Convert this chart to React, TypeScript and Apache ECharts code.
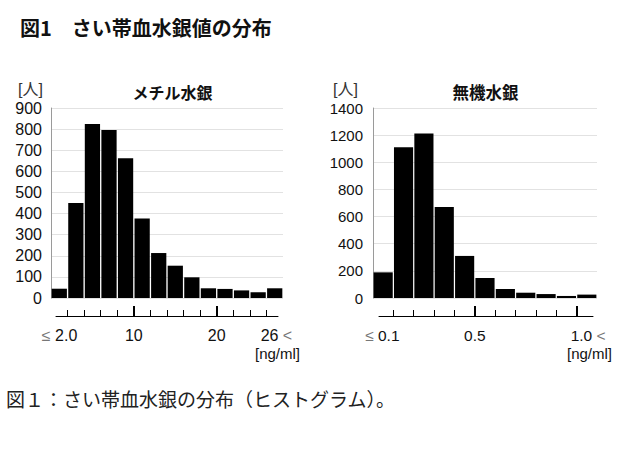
import React, { useEffect, useRef } from 'react';
import * as echarts from 'echarts';

// ---- data ----
const methylCategories = ['≤2.0', '2-4', '4-6', '6-8', '8-10', '10-12', '12-14', '14-16', '16-18', '18-20', '20-22', '22-24', '24-26', '26<'];
const methylCounts = [44, 450, 824, 796, 662, 377, 213, 153, 98, 46, 43, 36, 27, 46];
const methylYMax = 900;
const methylYStep = 100;
const methylTickPositions = [1, 5, 10, 13];
const methylTickLabels = ['≤ 2.0', '10', '20', '26 <'];
const methylMajorTicks = [5, 10];

const inorgCategories = ['≤0.1', '0.1-0.2', '0.2-0.3', '0.3-0.4', '0.4-0.5', '0.5-0.6', '0.6-0.7', '0.7-0.8', '0.8-0.9', '0.9-1.0', '1.0<'];
const inorgCounts = [189, 1110, 1213, 671, 310, 147, 66, 39, 29, 15, 25];
const inorgYMax = 1400;
const inorgYStep = 200;
const inorgTickPositions = [1, 5, 10];
const inorgTickLabels = ['≤ 0.1', '0.5', '1.0 <'];
const inorgMajorTicks = [5, 10];

const mainTitle = '図1　さい帯血水銀値の分布';
const caption = '図１：さい帯血水銀の分布（ヒストグラム）。';
const methylTitle = 'メチル水銀';
const inorgTitle = '無機水銀';
const yUnit = '[人]';
const xUnit = '[ng/ml]';

const LATIN = "'Liberation Sans', Arial, 'Noto Sans CJK JP', sans-serif";
const JP = "'Noto Sans CJK JP', 'Liberation Sans', sans-serif";

interface Panel {
  categories: string[];
  counts: number[];
  yMax: number;
  yStep: number;
  tickPositions: number[];
  tickLabels: string[];
  majorTicks: number[];
  grid: { left: number; top: number; width: number; height: number };
  tickGrid: { left: number; width: number; top: number; height: number };
  padLeftLabel: number;
  padRightLabel: number;
  gap: string;
  yLabelMargin: number;
  yFont: number;
  xFont: number;
}

const panels: Panel[] = [
  {
    categories: methylCategories,
    counts: methylCounts,
    yMax: methylYMax,
    yStep: methylYStep,
    tickPositions: methylTickPositions,
    tickLabels: methylTickLabels,
    majorTicks: methylMajorTicks,
    grid: { left: 51, top: 108, width: 232, height: 190 },
    tickGrid: { left: 56, width: 222, top: 290, height: 26 },
    padLeftLabel: 20,
    padRightLabel: 16,
    gap: '8%',
    yLabelMargin: 9,
    yFont: 16,
    xFont: 16,
  },
  {
    categories: inorgCategories,
    counts: inorgCounts,
    yMax: inorgYMax,
    yStep: inorgYStep,
    tickPositions: inorgTickPositions,
    tickLabels: inorgTickLabels,
    majorTicks: inorgMajorTicks,
    grid: { left: 373, top: 108, width: 224, height: 190 },
    tickGrid: { left: 379, width: 214, top: 290, height: 26 },
    padLeftLabel: 23,
    padRightLabel: 22,
    gap: '6%',
    yLabelMargin: 10,
    yFont: 15,
    xFont: 15.5,
  },
];

function richLabel(t: string): string {
  if (t.startsWith('≤ ')) return `{g|≤ }{n|${t.slice(2)}}{pr|\u00a0}`;
  if (t.endsWith(' <')) return `{pl|\u00a0}{n|${t.slice(0, -2)}}{g|\u00a0<}`;
  return `{n|${t}}`;
}

function buildOption() {
  const grid: any[] = [];
  const xAxis: any[] = [];
  const yAxis: any[] = [];
  const series: any[] = [];

  panels.forEach((p) => {
    const gMain = grid.length;
    grid.push({ ...p.grid, containLabel: false, outerBoundsMode: 'none' });
    const gTick = grid.length;
    grid.push({ ...p.tickGrid, containLabel: false, outerBoundsMode: 'none' });

    const n = p.categories.length;
    const binW = p.grid.width / n;
    const tMin = (p.tickGrid.left - p.grid.left) / binW;
    const tMax = (p.tickGrid.left + p.tickGrid.width - p.grid.left) / binW;
    const boundaries = p.categories.slice(1).map((_, i) => i + 1);

    const xMain = xAxis.length;
    xAxis.push({
      type: 'category',
      gridIndex: gMain,
      data: p.categories,
      axisLine: { show: false },
      axisTick: { show: false },
      axisLabel: { show: false },
      splitLine: { show: false },
    });
    xAxis.push({
      type: 'value',
      gridIndex: gTick,
      min: tMin,
      max: tMax,
      position: 'bottom',
      axisLine: { show: true, lineStyle: { color: '#000', width: 1 } },
      axisTick: { show: true, inside: true, length: 6, customValues: boundaries, lineStyle: { color: '#000', width: 1 } },
      axisLabel: {
        show: true,
        customValues: p.tickPositions,
        margin: 11,
        formatter: (v: number) => richLabel(p.tickLabels[p.tickPositions.indexOf(v)] ?? ''),
        rich: {
          n: { fontSize: p.xFont, fontFamily: LATIN, color: '#111', lineHeight: 17 },
          g: { fontSize: p.xFont, fontFamily: LATIN, color: '#777', lineHeight: 17 },
          pr: { width: p.padRightLabel, fontSize: p.xFont, lineHeight: 17 },
          pl: { width: p.padLeftLabel, fontSize: p.xFont, lineHeight: 17 },
        },
      },
      splitLine: { show: false },
    });
    xAxis.push({
      type: 'value',
      gridIndex: gTick,
      min: tMin,
      max: tMax,
      position: 'bottom',
      axisLine: { show: false },
      axisTick: { show: true, inside: true, length: 10, customValues: p.majorTicks, lineStyle: { color: '#000', width: 2 } },
      axisLabel: { show: false },
      splitLine: { show: false },
    });

    const yMain = yAxis.length;
    yAxis.push({
      type: 'value',
      gridIndex: gMain,
      min: 0,
      max: p.yMax,
      interval: p.yStep,
      axisLine: { show: true, lineStyle: { color: '#9a9a9a', width: 1 } },
      axisTick: { show: false },
      axisLabel: {
        fontSize: p.yFont,
        fontFamily: LATIN,
        color: '#111',
        margin: p.yLabelMargin,
        formatter: (v: number) => String(v),
      },
      splitLine: { show: true, lineStyle: { color: '#e2e2e2', width: 1 } },
    });
    yAxis.push({
      type: 'value',
      gridIndex: gTick,
      min: 0,
      max: 1,
      show: false,
    });

    series.push({
      type: 'bar',
      xAxisIndex: xMain,
      yAxisIndex: yMain,
      data: p.counts,
      barCategoryGap: p.gap,
      itemStyle: { color: '#000' },
      silent: true,
    });
  });

  const text = (t: string, x: number, y: number, size: number, opts: any = {}) => ({
    type: 'text',
    x,
    y,
    silent: true,
    style: {
      text: t,
      fontSize: size,
      fontFamily: opts.family ?? JP,
      fontWeight: opts.bold ? 'bold' : 'normal',
      fill: opts.color ?? '#111',
      align: opts.align ?? 'left',
      verticalAlign: 'middle',
    },
  });

  const graphic = [
    text(mainTitle, 20, 27, 20, { bold: true }),
    text(methylTitle, 172.5, 92, 16, { bold: true, align: 'center' }),
    text(inorgTitle, 485.5, 92, 16.5, { bold: true, align: 'center' }),
    text(yUnit, 18, 89, 16, { color: '#333', family: LATIN }),
    text(yUnit, 333, 89, 16, { color: '#333', family: LATIN }),
    text(xUnit, 300, 353, 15, { family: LATIN, align: 'right' }),
    text(xUnit, 612, 353, 15, { family: LATIN, align: 'right' }),
    text(caption, 6, 398, 19, { color: '#222' }),
  ];

  return {
    animation: false,
    backgroundColor: '#fff',
    grid,
    xAxis,
    yAxis,
    series,
    graphic,
  };
}

export default function App() {
  const ref = useRef<HTMLDivElement>(null);
  useEffect(() => {
    if (!ref.current) return;
    const chart = echarts.init(ref.current, null, { renderer: 'svg' });
    chart.setOption(buildOption() as any);
    return () => chart.dispose();
  }, []);
  return (
    <div
      ref={ref}
      style={{ position: 'fixed', left: 0, top: 0, width: 640, height: 451, background: '#fff' }}
    />
  );
}
